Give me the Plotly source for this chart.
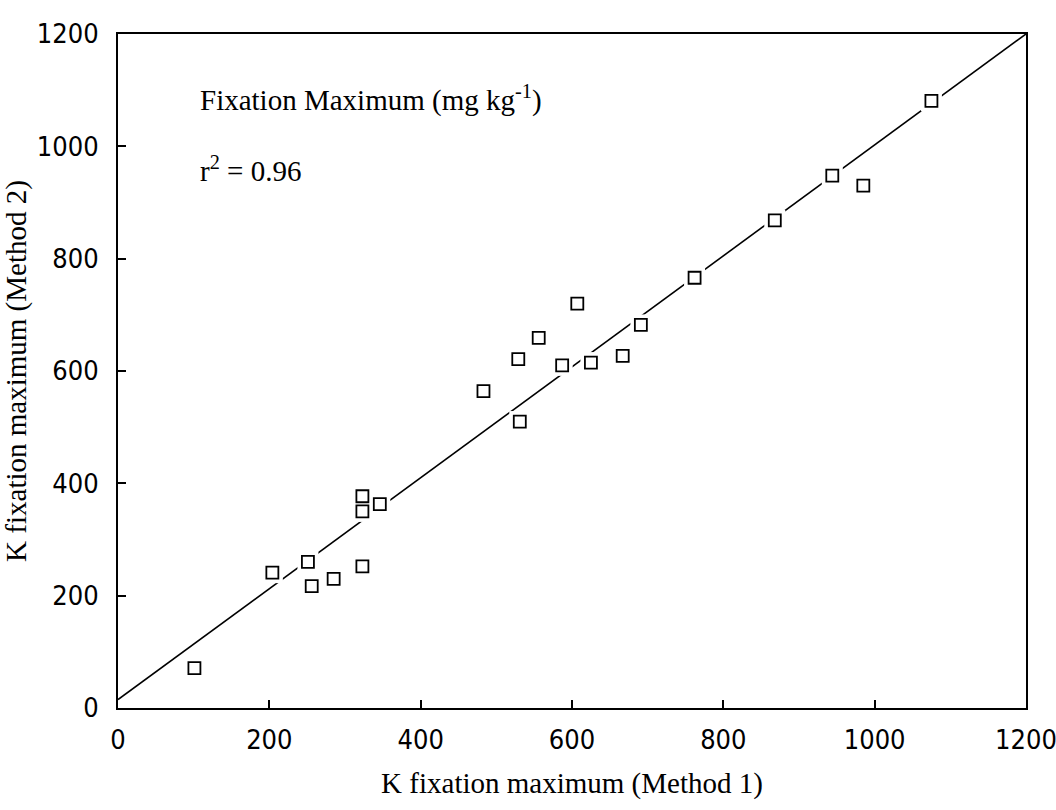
import plotly.graph_objects as go

# K fixation maximum (mg/kg) measured by the two methods
method1 = [101, 204, 251, 256, 285, 323, 323, 323, 346,
           483, 529, 531, 556, 587, 607, 625, 667, 691, 762,
           868, 944, 985, 1075]
method2 = [71, 241, 260, 217, 230, 252, 377, 350, 363,
           564, 621, 510, 659, 610, 720, 615, 627, 682, 766,
           868, 948, 930, 1081]

# regression line drawn across the full axis range
fit_x = [0, 1200]
fit_y = [15, 1200]

tick_vals = [0, 200, 400, 600, 800, 1000, 1200]
tick_text = ["0", "200", "400", "600", "800", "1000", "1200"]

serif = "Liberation Serif, Times New Roman, serif"
narrow = "Liberation Sans Narrow, DejaVu Sans Condensed, Arial Narrow, sans-serif"

fig = go.Figure()

fig.add_trace(go.Scatter(
    x=fit_x, y=fit_y, mode="lines",
    line=dict(color="black", width=1.6),
    hoverinfo="skip", showlegend=False, cliponaxis=False,
))

# white halo that breaks the regression line around each symbol
fig.add_trace(go.Scatter(
    x=method1, y=method2, mode="markers",
    marker=dict(symbol="square", size=21, color="white", line=dict(width=0)),
    hoverinfo="skip", showlegend=False,
))

fig.add_trace(go.Scatter(
    x=method1, y=method2, mode="markers",
    marker=dict(symbol="square", size=12, color="white",
                line=dict(color="black", width=1.8)),
    showlegend=False,
))

axis_common = dict(
    range=[0, 1200],
    tickvals=tick_vals,
    ticktext=tick_text,
    ticks="inside",
    ticklen=8,
    tickwidth=1.5,
    tickcolor="black",
    showline=True,
    linecolor="black",
    linewidth=2,
    mirror=True,
    showgrid=False,
    zeroline=False,
    automargin=False,
    ticklabeloverflow="allow",
    tickfont=dict(family=narrow, size=27, color="black"),
)

fig.update_xaxes(
    **axis_common,
    ticklabelstandoff=7,
    title=dict(text="K fixation maximum (Method 1)",
               font=dict(family=serif, size=29, color="black"),
               standoff=18),
)
fig.update_yaxes(
    **axis_common,
    ticklabelstandoff=12,
    title=dict(text="K fixation maximum (Method 2)",
               font=dict(family=serif, size=29, color="black"),
               standoff=10),
)

fig.add_annotation(
    x=0.088, y=0.905, xref="paper", yref="paper",
    xanchor="left", yanchor="middle", showarrow=False,
    text="Fixation Maximum (mg kg<sup>-1</sup>)",
    font=dict(family=serif, size=29, color="black"),
)
fig.add_annotation(
    x=0.088, y=0.80, xref="paper", yref="paper",
    xanchor="left", yanchor="middle", showarrow=False,
    text="r<sup>2</sup> = 0.96",
    font=dict(family=serif, size=29, color="black"),
)

fig.update_layout(
    width=1056, height=810,
    margin=dict(l=118, r=30, t=34, b=102),
    paper_bgcolor="white",
    plot_bgcolor="white",
)

fig.write_html("out.html")
